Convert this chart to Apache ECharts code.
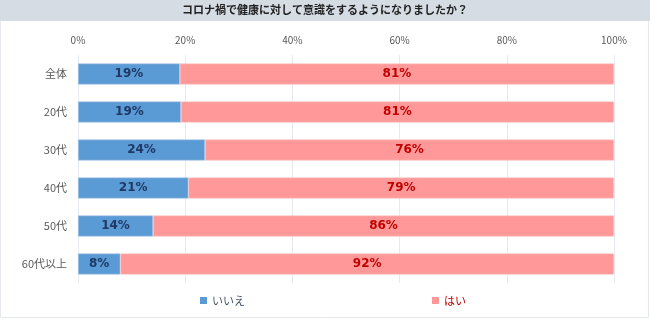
<!DOCTYPE html>
<html><head><meta charset="utf-8">
<script src="https://cdn.jsdelivr.net/npm/echarts@6/dist/echarts.min.js"></script>
<style>html,body{margin:0;padding:0;background:#fff}#c{width:650px;height:327px}</style>
</head><body><div id="c"></div>
<script>
const categories = ['全体','20代','30代','40代','50代','60代以上'];
const noValues = [19.0, 19.2, 23.7, 20.6, 14.0, 7.9];
const yesValues = [81.0, 80.8, 76.3, 79.4, 86.0, 92.1];
const tickLabels = ['0%','20%','40%','60%','80%','100%'];
const titleText = 'コロナ禍で健康に対して意識をするようになりましたか？';
const font = '"Noto Sans CJK JP", "Noto Sans", sans-serif';

const chart = echarts.init(document.getElementById('c'), null, {renderer:'canvas'});
chart.setOption({
  animation:false,
  textStyle:{fontFamily:font},
  graphic:[
    {type:'rect', shape:{x:0.5,y:0.5,width:648,height:317}, style:{fill:'#fff', stroke:'#e4e8ee', lineWidth:1}, z:-10},
    {type:'rect', shape:{x:0,y:0,width:650,height:21}, style:{fill:'#d6dce4'}, z:-5},
    {type:'text', left:'center', top:4, style:{text:titleText, font:'bold 11px '+font, fill:'#222'}}
  ],
  legend:[
    {data:['いいえ'], left:195, top:290, itemWidth:7, itemHeight:7, icon:'rect', itemStyle:{borderWidth:0},
      textStyle:{color:'#44546a', fontSize:11, fontFamily:font}},
    {data:['はい'], left:427, top:290, itemWidth:7, itemHeight:7, icon:'rect', itemStyle:{borderWidth:0},
      textStyle:{color:'#c00000', fontSize:11, fontFamily:font}}
  ],
  grid:{left:78, right:36, top:55, bottom:44},
  xAxis:{type:'value', position:'top', min:0, max:100, interval:20,
    axisLine:{show:false}, axisTick:{show:false},
    splitLine:{lineStyle:{color:'#e6e9f0', width:1}},
    axisLabel:{margin:10, color:'#595959', fontSize:10, fontFamily:font,
      formatter:(v)=>tickLabels[Math.round(v/20)]}
  },
  yAxis:{type:'category', data:categories, inverse:true,
    axisLine:{show:false}, axisTick:{show:false},
    axisLabel:{margin:11, color:'#595959', fontSize:11, fontFamily:font}
  },
  series:[
    {name:'いいえ', type:'bar', stack:'a', data:noValues, barWidth:21,
      itemStyle:{color:'#5b9bd5', borderColor:'#a9c8e8', borderWidth:0.6},
      label:{show:true, position:'inside', color:'#1f3864', fontWeight:'bold', fontSize:12, fontFamily:'"DejaVu Sans", sans-serif',
        formatter:(p)=>Math.round(p.value)+'%'}},
    {name:'はい', type:'bar', stack:'a', data:yesValues, barWidth:21,
      itemStyle:{color:'#ff9999', borderColor:'#ffc4c4', borderWidth:0.6},
      label:{show:true, position:'inside', color:'#c00000', fontWeight:'bold', fontSize:12, fontFamily:'"DejaVu Sans", sans-serif',
        formatter:(p)=>Math.round(p.value)+'%'}}
  ]
});
</script></body></html>
